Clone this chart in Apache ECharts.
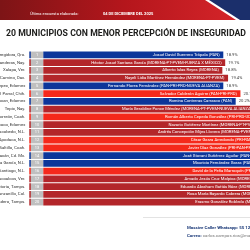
<!DOCTYPE html>
<html><head><meta charset="utf-8">
<script src="https://cdn.jsdelivr.net/npm/echarts@6/dist/echarts.min.js"></script>
<style>html,body{margin:0;padding:0;background:#fff}#c{width:250px;height:250px}</style>
</head><body><div id="c"></div>
<script>
const municipios = [
  "Corregidora, Qro.", "Bahía de Banderas, Nay.", "Xalapa, Ver.", "Santa Lucía del Camino, Oax.",
  "Metepec, Edomex", "Hidalgo del Parral, Chih.", "Huixquilucan, Edomex", "Tepic, Nay.",
  "Torreón, Coah.", "Texcoco, Edomex", "General Escobedo, N.L.", "Apodaca, N.L.",
  "Saltillo, Coah.", "Coyoacán, Cd. Mx.", "San Pedro Garza García, N.L.", "Santiago, N.L.",
  "Coatzacoalcos, Ver.", "Victoria, Tamps.", "Manzanillo, Col.", "Cd. Madero, Tamps."
];
const candidatos = [
  "Josué David Guerrero Trápala (PAN)",
  "Héctor Josué Santana García (MORENA-PT-PVEM-FUERZA X MÉXICO)",
  "Alberto Islas Reyes (MORENA)",
  "Nayeli Lidia Martínez Hernández (MORENA-PT-PVEM)",
  "Fernando Flores Fernández (PAN-PRI-PRD-NUEVA ALIANZA)",
  "Salvador Calderón Aguirre (PAN-PRI-PRD)",
  "Romina Contreras Carrasco (PAN)",
  "María Geraldine Ponce Méndez (MORENA-PT-PVEM-NUEVA ALIANZA)",
  "Román Alberto Cepeda González (PRI-PRD-UDC)",
  "Nazario Gutiérrez Martínez (MORENA-PT-PVEM)",
  "Andrés Concepción Mijes Llovera (MORENA-PVEM-PT)",
  "César Garza Arredondo (PRI-PAN-PRD)",
  "Javier Díaz González (PRI-PAN-PRD-UDC)",
  "José Giovani Gutiérrez Aguilar (PAN-PRI-PRD)",
  "Mauricio Fernández Garza (PAN-PRI-PRD)",
  "David de la Peña Marroquín (PRI-PAN-PRD)",
  "Amado Jesús Cruz Malpica (MORENA-PT-PVEM)",
  "Eduardo Abraham Gattás Báez (MORENA-PT-PVEM)",
  "Rosa María Bayardo Cabrera (MORENA-PT-PVEM)",
  "Erasmo González Robledo (MORENA-PT-PVEM)"
];
const partidos = ["PAN","MORENA","MORENA","MORENA","PAN","PRI","PAN","MORENA","PRI","MORENA",
  "MORENA","PRI","PRI","PAN","PAN","PRI","MORENA","MORENA","MORENA","MORENA"];
const valores = [18.9, 19.1, 18.8, 19.4, 18.9, 20.7, 20.2, 22.3, 22.6, 22.9,
  23.1, 23.4, 23.6, 23.9, 24.2, 24.4, 24.7, 24.9, 25.2, 25.6];
const encabezado = "Última encuesta elaborada:";
const fecha = "04 DE DICIEMBRE DEL 2025";
const titulo = "20 MUNICIPIOS CON MENOR PERCEPCIÓN DE INSEGURIDAD";

const colorPartido = {PAN:"#0c369a", MORENA:"#b3262a", PRI:"#f5291b"};
const F = "Roboto, 'Open Sans', sans-serif";
const chart = echarts.init(document.getElementById('c'), null, {renderer:'canvas'});

const pxPerUnit = 180/18.9;
const gridW = 420;

const titleFont = 9;
const mctx = document.createElement('canvas').getContext('2d');
mctx.font = 'bold ' + titleFont + 'px ' + F;
const titleScale = 240 / mctx.measureText(titulo).width;

chart.setOption({
  animation:false,
  backgroundColor:'#fff',
  grid:{left:43.3, top:51, width:gridW, height:155, containLabel:false, outerBoundsMode:'none'},
  xAxis:{type:'value', min:0, max:gridW/pxPerUnit, show:false},
  yAxis:{type:'category', inverse:true, data:municipios,
    axisLine:{show:false}, axisTick:{show:false},
    axisLabel:{margin:18, fontSize:4.3, color:'#333', fontFamily:F}},
  series:[
    {type:'bar', barWidth:6.6, silent:true,
      data: valores.map((v,i)=>({value:v, itemStyle:{color:colorPartido[partidos[i]]}})),
      label:{show:true, position:'insideRight', distance:3.5, fontSize:4.2, color:'#fff', fontFamily:F,
        formatter:p=>candidatos[p.dataIndex]}},
    {type:'bar', barWidth:6.6, barGap:'-100%', silent:true,
      data: valores, itemStyle:{color:'rgba(0,0,0,0)'},
      label:{show:true, position:'right', distance:3, fontSize:4.2, color:'#444', fontFamily:F,
        formatter:p=>p.value.toFixed(1)+'%'}},
    {type:'custom', silent:true,
      data: valores.map((v,i)=>[0,i]),
      encode:{x:0,y:1},
      renderItem:(params, api)=>{
        const i = api.value(1);
        const p = api.coord([0, i]);
        const h = 6.6;
        return {type:'group', children:[
          {type:'rect', shape:{x:p[0]-14, y:p[1]-h/2, width:1.6, height:h}, style:{fill:colorPartido[partidos[i]]}},
          {type:'rect', shape:{x:p[0]-12.4, y:p[1]-h/2, width:12.4, height:h}, style:{fill:'#bfbfbf'}},
          {type:'text', style:{text:String(i+1), x:p[0]-6.2, y:p[1], align:'center', verticalAlign:'middle', fontSize:4, fill:'#fff', fontFamily:F}}
        ]};
      }}
  ],
  graphic:[
    {type:'rect', shape:{x:0,y:0,width:250,height:20}, z:-1,
      style:{fill:new echarts.graphic.LinearGradient(0,0,1,0,[{offset:0,color:'#7d1416'},{offset:0.5,color:'#b5161c'},{offset:1,color:'#d8262b'}])}},
    {type:'polygon', shape:{points:[[205,0],[250,0],[250,20],[236,20]]}, style:{fill:'#fff'}},
    {type:'polygon', shape:{points:[[209,0],[250,0],[250,20],[240,20]]}, style:{fill:'#1b2f6b'}},
    {type:'text', left:30, top:11.5, style:{text:encabezado, fontSize:4, fill:'#fff', fontFamily:F}},
    {type:'text', left:103, top:11.5, style:{text:fecha, fontSize:4, fill:'#fff', fontFamily:F, fontWeight:'bold'}},
    {type:'text', x:6, y:34, scaleX:titleScale,
      style:{text:titulo, x:0, y:0, fontSize:titleFont, fontWeight:'bold', fill:'#1d1d1b', fontFamily:F, align:'left', verticalAlign:'middle'}},
    {type:'line', shape:{x1:143,y1:217.5,x2:250,y2:217.5}, style:{stroke:'#dcdcdc', lineWidth:0.8}},
    {type:'text', x:187, y:228, style:{text:'Massive Caller Whatsapp: 55 1234 5678', fontSize:4.4, fontWeight:'bold', fill:'#1e3c7a', fontFamily:F, verticalAlign:'middle'}},
    {type:'text', x:187, y:236, style:{text:'{b|Correo:} {g|carlos.campos.rios@massivecaller.com}', fontSize:4.4, fontFamily:F, verticalAlign:'middle',
      rich:{b:{fontSize:4.4, fontWeight:'bold', fill:'#1e3c7a', fontFamily:F}, g:{fontSize:4.4, fill:'#777', fontFamily:F}}}}
  ]
});
</script></body></html>
